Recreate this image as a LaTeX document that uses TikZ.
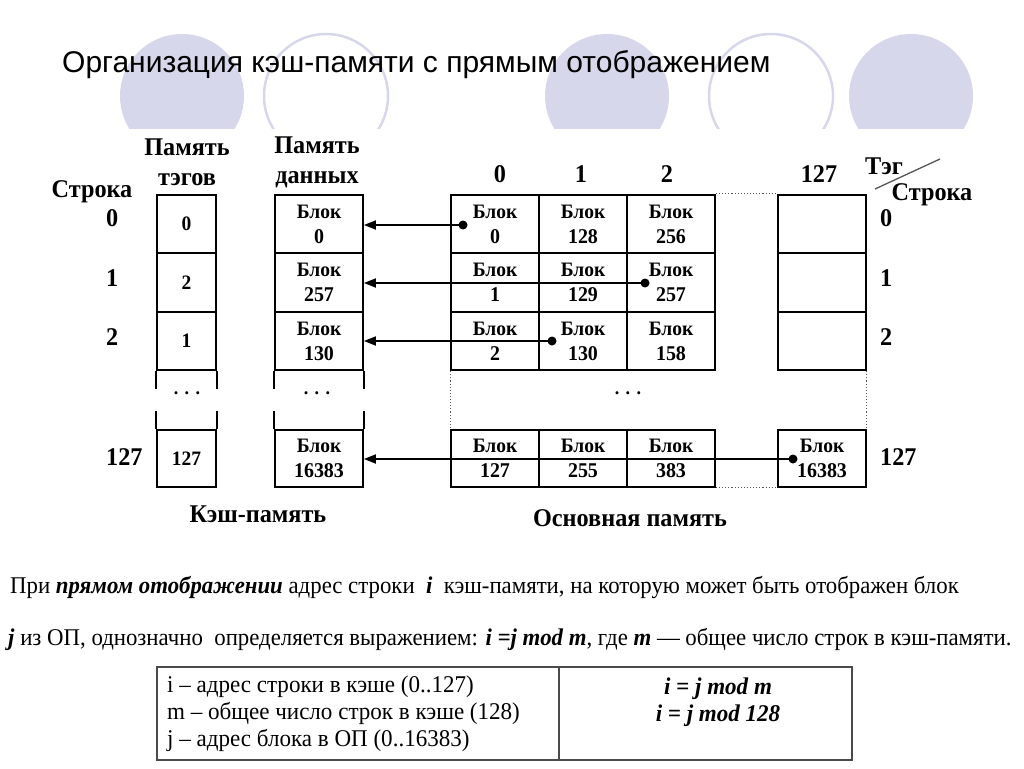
\documentclass[tikz,border=0pt]{standalone}
\usepackage{fontspec}
\setmainfont{Liberation Serif}
\newfontfamily\titlef{Liberation Sans}
\newfontfamily\dg[FakeStretch=0.95]{Liberation Serif}
\newfontfamily\bodyf[FakeStretch=0.95]{Liberation Serif}
\newfontfamily\tabf[FakeStretch=0.96]{Liberation Serif}
\usetikzlibrary{arrows.meta}
\definecolor{lav}{HTML}{D7D7EB}
\definecolor{tblline}{HTML}{4A4A4A}
\definecolor{dotline}{HTML}{555555}
\newcommand\blok[1]{Блок\\{\fontsize{21}{25}\selectfont #1}}
\begin{document}
\begin{tikzpicture}[x=1pt,y=-1pt,
  cell/.style={draw, line width=1.8pt, minimum width=88pt, minimum height=58.5pt, inner sep=0pt, align=center, font=\dg\bfseries\fontsize{20.5}{25}\selectfont},
  tagcell/.style={cell, minimum width=59pt},
  lbl/.style={font=\dg\bfseries\fontsize{25.5}{30}\selectfont, inner sep=0pt, align=center},
  cellnum/.style={font=\dg\bfseries\fontsize{19}{25}\selectfont, inner sep=0pt},
  dotm/.style={circle, fill=black, inner sep=0pt, minimum size=9pt},
  arr/.style={line width=1.8pt, -{Triangle[length=12pt,width=9pt]}},
  wall/.style={line width=1.8pt},
  dotl/.style={dotted, line width=1.1pt, draw=dotline},
  deco/.style={fill=lav},
  decoring/.style={draw=lav, line width=2.5pt},
  body/.style={anchor=base west, inner sep=0pt, font=\bodyf\fontsize{24}{28}\selectfont},
  tcell/.style={draw=tblline, line width=1.5pt, inner sep=0pt},
  ttext/.style={anchor=base west, inner sep=0pt, font=\tabf\fontsize{24}{27}\selectfont},
  tform/.style={anchor=base, inner sep=0pt, font=\tabf\bfseries\itshape\fontsize{24}{27}\selectfont}
]
\useasboundingbox (0,0) rectangle (1024,768);
% decorative circles
\begin{scope}
\clip (0,0) rectangle (1024,128);
\fill[deco] (182,96) circle (62);
\draw[decoring] (326,96) circle (62);
\fill[deco] (607,96) circle (62);
\draw[decoring] (771,96) circle (62);
\fill[deco] (911,96) circle (62);
\end{scope}
\node[anchor=base west, inner sep=0pt, font=\titlef\fontsize{30}{36}\selectfont] (title) at (62,72) {Организация кэш-памяти с прямым отображением};

% headers
\node[lbl] (htag) at (187,162) {Память\\тэгов};
\node[lbl] (hdat) at (317,162) {Память\\данных};
\node[lbl] (hrowl) at (92,192) {Строка};
\node[lbl, anchor=west] (rl0) at (106,218) {0};
\node[lbl, anchor=west] (rl1) at (106,278) {1};
\node[lbl, anchor=west] (rl2) at (106,337) {2};
\node[lbl, anchor=west] (rl127) at (106,457) {127};
\node[lbl] (hc0) at (500,174) {0};
\node[lbl] (hc1) at (581,174) {1};
\node[lbl] (hc2) at (667,174) {2};
\node[lbl] (hc127) at (819,174) {127};
\node[lbl] (htg) at (884,166) {Тэг};
\node[lbl] (hrowr) at (932,195) {Строка};
\coordinate (sl1) at (875,189);
\coordinate (sl2) at (940,159);
\draw[line width=1.3pt, draw=dotline] (sl1) -- (sl2);
\node[lbl, anchor=west] (rr0) at (880,218) {0};
\node[lbl, anchor=west] (rr1) at (880,278) {1};
\node[lbl, anchor=west] (rr2) at (880,337) {2};
\node[lbl, anchor=west] (rr127) at (880,457) {127};

% tag memory
\node[tagcell] (t0) at (186.5,224) {0};
\node[tagcell] (t1) at (186.5,282.5) {2};
\node[tagcell] (t2) at (186.5,341) {1};
\node[tagcell, minimum height=57pt] (t127) at (186.5,458.5) {127};
% data memory
\node[cell] (d0) at (319,224) {\blok{0}};
\node[cell] (d1) at (319,282.5) {\blok{257}};
\node[cell] (d2) at (319,341) {\blok{130}};
\node[cell, minimum height=57pt] (d127) at (319,458.5) {\blok{16383}};
% breaks
\foreach \n in {t2,d2} {
  \draw[wall] (\n.south west) -- ++(0,18);
  \draw[wall] (\n.south east) -- ++(0,18);
}
\foreach \n in {t127,d127} {
  \draw[wall] (\n.north west) -- ++(0,-18);
  \draw[wall] (\n.north east) -- ++(0,-18);
}
\node[cellnum] (tdots) at (187,393) {.\,\,.\,\,.};
\node[cellnum] (ddots) at (317,393) {.\,\,.\,\,.};
\node[cellnum] (mdots) at (628,393) {.\,\,.\,\,.};

% main memory
\node[cell] (m00) at (495,224) {\blok{0}};
\node[cell] (m01) at (583,224) {\blok{128}};
\node[cell] (m02) at (671,224) {\blok{256}};
\node[cell] (m10) at (495,282.5) {\blok{1}};
\node[cell] (m11) at (583,282.5) {\blok{129}};
\node[cell] (m12) at (671,282.5) {\blok{257}};
\node[cell] (m20) at (495,341) {\blok{2}};
\node[cell] (m21) at (583,341) {\blok{130}};
\node[cell] (m22) at (671,341) {\blok{158}};
\node[cell, minimum height=57pt] (m30) at (495,458.5) {\blok{127}};
\node[cell, minimum height=57pt] (m31) at (583,458.5) {\blok{255}};
\node[cell, minimum height=57pt] (m32) at (671,458.5) {\blok{383}};
\node[cell] (r0) at (822,224) {};
\node[cell] (r1) at (822,282.5) {};
\node[cell] (r2) at (822,341) {};
\node[cell, minimum height=57pt] (r3) at (822,458.5) {\blok{16383}};
\draw[dotl] (m02.north east) -- (r0.north west);
\draw[dotl] (m32.south east) -- (r3.south west);
\draw[dotl] (m20.south west) -- (m30.north west);
\draw[dotl] (r2.south east) -- (r3.north east);

% connectors
\node[dotm] (p0) at (463,225) {};
\node[dotm] (p1) at (645,283) {};
\node[dotm] (p2) at (552,341) {};
\node[dotm] (p3) at (793,459) {};
\draw[arr] (p0.center) -- (p0.center -| d0.east);
\draw[arr] (p1.center) -- (p1.center -| d1.east);
\draw[arr] (p2.center) -- (p2.center -| d2.east);
\draw[arr] (p3.center) -- (p3.center -| d127.east);

\node[lbl] (lcache) at (258,514) {Кэш-память};
\node[lbl] (lmain) at (630,518) {Основная память};

% text
\node[body] (txt1) at (10,593) {При \textbf{\textit{прямом отображении}} адрес строки \ \textbf{\textit{i}} \ кэш-памяти, на которую может быть отображен блок};
\node[body] (txt2) at (8,645) {\textbf{\textit{j}} из ОП, однозначно \ определяется выражением: \textbf{\textit{i =j mod m}}, где \textbf{\textit{m}} — общее число строк в кэш-памяти.};

% table
\node[tcell, minimum width=402pt, minimum height=93pt] (tl) at (358,713.5) {};
\node[tcell, minimum width=293pt, minimum height=93pt] (tr) at (705.5,713.5) {};
\node[ttext] (tx1) at (167,692) {i – адрес строки в кэше (0..127)};
\node[ttext] (tx2) at (167,719) {m – общее число строк в кэше (128)};
\node[ttext] (tx3) at (167,746) {j – адрес блока в ОП (0..16383)};
\node[tform] (tf1) at (718,694) {i = j mod m};
\node[tform] (tf2) at (718,721) {i = j mod 128};
\end{tikzpicture}
\end{document}
